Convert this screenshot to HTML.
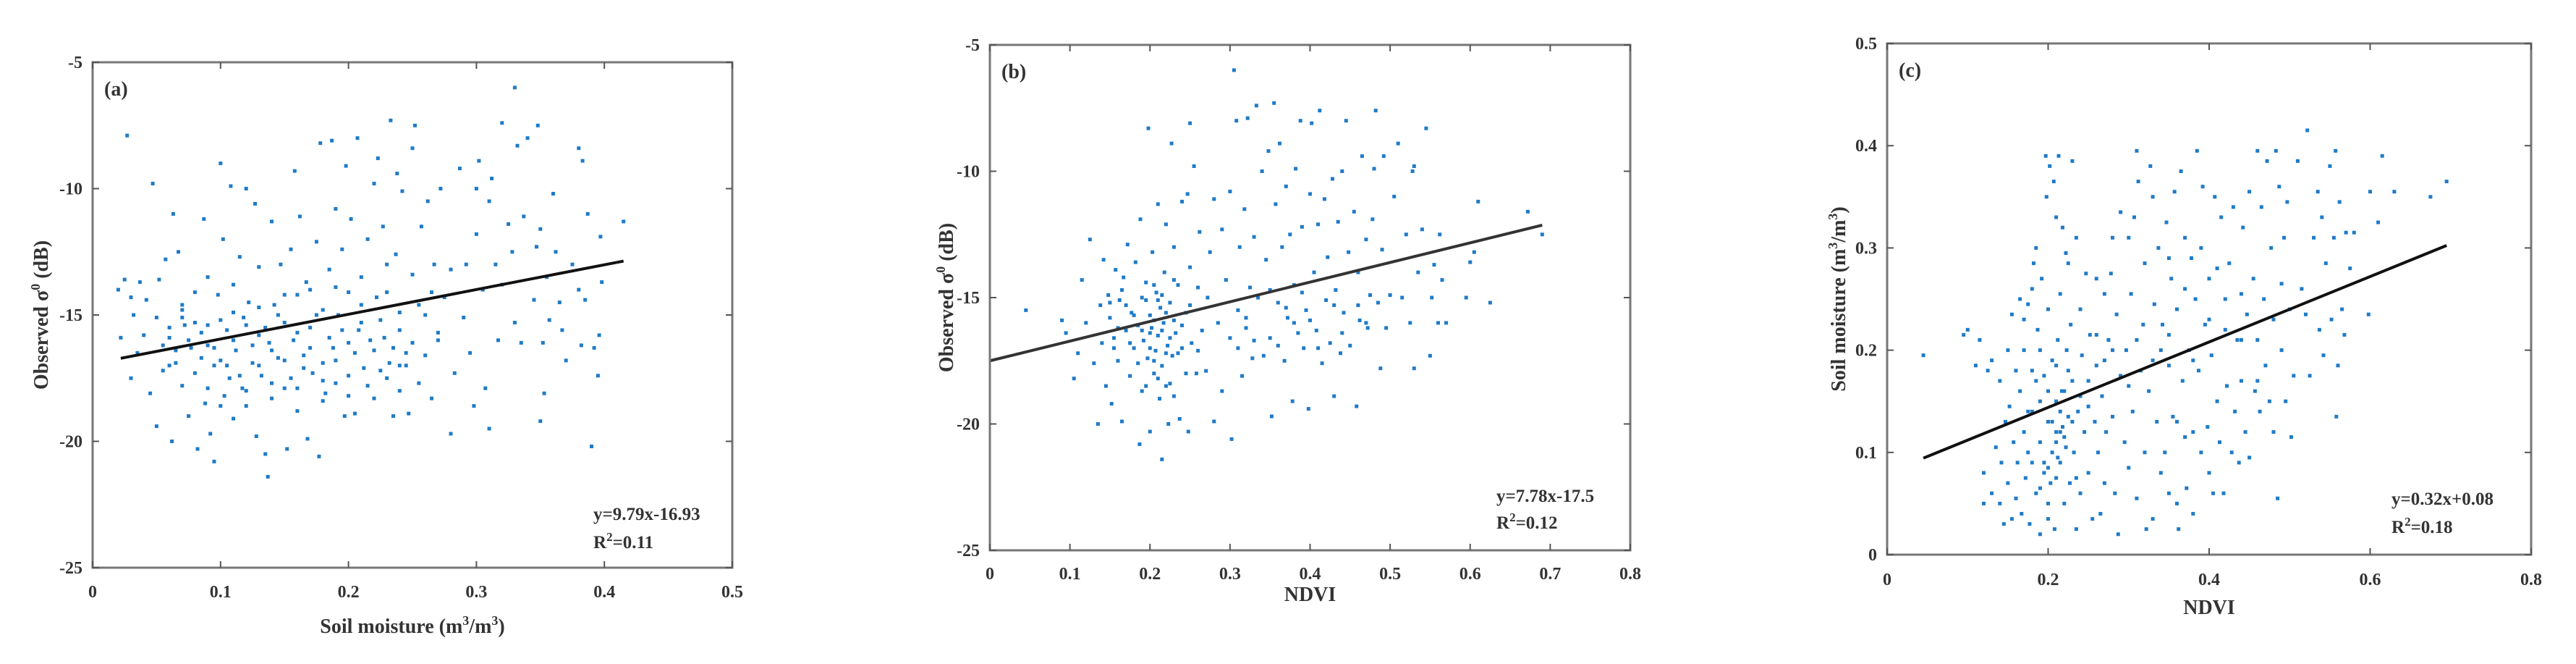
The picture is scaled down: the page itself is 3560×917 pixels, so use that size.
<!DOCTYPE html>
<html><head><meta charset="utf-8"><style>
html,body{margin:0;padding:0;background:#fff;width:3560px;height:917px;overflow:hidden}
svg{display:block}
text{font-family:"Liberation Serif",serif;font-weight:bold;fill:#333}
</style></head><body>
<svg id="fig" width="3560" height="917" viewBox="0 0 3560 917" xmlns="http://www.w3.org/2000/svg"></svg>
<script>
// ---------- data ----------
const ptsA=[[0.02,-14.0],[0.022,-15.9],[0.025,-13.6],[0.027,-7.9],[0.03,-14.3],[0.03,-17.5],[0.032,-15.0],[0.035,-16.5],[0.037,-13.7],[0.04,-15.8],[0.042,-14.4],[0.045,-18.1],[0.047,-9.8],[0.05,-15.1],[0.05,-19.4],[0.052,-13.6],[0.055,-16.2],[0.055,-17.2],[0.057,-12.8],[0.06,-15.5],[0.062,-20.0],[0.063,-11.0],[0.065,-16.9],[0.067,-12.5],[0.07,-14.8],[0.07,-17.8],[0.072,-15.4],[0.075,-19.0],[0.077,-16.3],[0.08,-14.1],[0.08,-17.3],[0.082,-20.3],[0.085,-15.7],[0.087,-11.2],[0.088,-18.5],[0.09,-16.2],[0.09,-13.5],[0.092,-19.7],[0.095,-17.0],[0.095,-20.8],[0.098,-14.2],[0.1,-9.0],[0.1,-16.8],[0.102,-12.0],[0.103,-18.2],[0.105,-15.6],[0.107,-17.5],[0.108,-9.9],[0.11,-13.8],[0.11,-19.1],[0.112,-16.4],[0.115,-12.7],[0.117,-17.9],[0.118,-15.1],[0.12,-10.0],[0.12,-18.6],[0.122,-14.5],[0.125,-16.9],[0.127,-10.6],[0.128,-19.8],[0.13,-15.8],[0.13,-13.1],[0.132,-17.4],[0.135,-20.5],[0.137,-21.4],[0.138,-16.1],[0.14,-11.3],[0.14,-18.3],[0.142,-14.6],[0.145,-16.7],[0.147,-13.0],[0.15,-17.9],[0.15,-15.3],[0.152,-20.3],[0.155,-12.4],[0.157,-16.0],[0.158,-9.3],[0.16,-18.8],[0.16,-14.2],[0.162,-11.1],[0.165,-16.6],[0.167,-13.7],[0.168,-19.9],[0.17,-15.5],[0.172,-17.3],[0.175,-12.1],[0.177,-20.6],[0.178,-8.2],[0.18,-16.9],[0.18,-14.8],[0.182,-18.1],[0.185,-13.2],[0.187,-8.1],[0.188,-16.3],[0.19,-10.8],[0.19,-17.7],[0.192,-15.0],[0.195,-12.4],[0.197,-19.0],[0.198,-9.1],[0.2,-16.1],[0.2,-14.1],[0.202,-11.2],[0.205,-18.9],[0.207,-8.0],[0.208,-15.6],[0.21,-13.5],[0.212,-17.1],[0.215,-12.0],[0.217,-16.0],[0.22,-9.8],[0.22,-18.3],[0.222,-14.3],[0.223,-8.8],[0.225,-17.2],[0.227,-11.5],[0.228,-15.9],[0.23,-13.0],[0.232,-16.9],[0.233,-7.3],[0.235,-19.0],[0.237,-12.6],[0.238,-9.4],[0.24,-17.0],[0.24,-14.9],[0.242,-10.1],[0.245,-16.5],[0.247,-18.9],[0.25,-8.4],[0.25,-13.4],[0.252,-7.5],[0.255,-17.7],[0.257,-11.5],[0.26,-15.0],[0.262,-10.5],[0.265,-18.3],[0.267,-13.0],[0.27,-16.0],[0.272,-10.0],[0.275,-14.3],[0.28,-19.7],[0.28,-13.2],[0.283,-17.3],[0.287,-9.2],[0.29,-15.1],[0.292,-13.0],[0.295,-16.5],[0.298,-18.6],[0.3,-10.0],[0.3,-11.8],[0.302,-8.9],[0.305,-14.0],[0.307,-17.9],[0.31,-19.5],[0.31,-10.5],[0.312,-9.6],[0.315,-13.0],[0.317,-16.0],[0.32,-7.4],[0.32,-13.8],[0.325,-11.4],[0.328,-12.5],[0.33,-6.0],[0.33,-15.3],[0.332,-8.3],[0.335,-16.1],[0.337,-11.1],[0.34,-8.0],[0.345,-14.4],[0.347,-12.3],[0.348,-7.5],[0.35,-19.2],[0.35,-11.6],[0.352,-16.1],[0.353,-18.1],[0.355,-13.5],[0.357,-15.2],[0.36,-10.2],[0.362,-12.5],[0.365,-14.5],[0.367,-15.6],[0.37,-16.8],[0.375,-13.0],[0.38,-14.0],[0.38,-8.4],[0.382,-16.2],[0.383,-8.9],[0.385,-14.4],[0.387,-11.0],[0.39,-20.2],[0.392,-16.3],[0.395,-17.4],[0.396,-15.8],[0.397,-11.9],[0.398,-13.7],[0.415,-11.3],
[0.06,-15.9],[0.065,-16.4],[0.07,-15.1],[0.075,-16.0],[0.08,-15.3],[0.085,-16.7],[0.09,-15.4],[0.095,-16.3],[0.1,-15.2],[0.105,-17.0],[0.11,-16.0],[0.115,-17.4],[0.12,-15.4],[0.125,-16.2],[0.13,-17.0],[0.135,-15.5],[0.14,-16.4],[0.145,-15.0],[0.15,-16.8],[0.155,-17.5],[0.16,-15.7],[0.165,-17.1],[0.17,-16.3],[0.175,-15.0],[0.18,-17.6],[0.185,-15.9],[0.19,-16.8],[0.195,-15.6],[0.2,-17.4],[0.205,-16.5],[0.21,-15.3],[0.215,-17.8],[0.22,-16.4],[0.225,-15.2],[0.23,-17.5],[0.235,-16.3],[0.24,-15.6],[0.245,-17.0],[0.25,-16.1],[0.255,-14.6],[0.26,-16.6],[0.265,-14.1],[0.27,-15.7],[0.11,-14.9],[0.13,-14.7],[0.15,-14.2],[0.17,-14.0],[0.19,-13.9],[0.21,-14.6],[0.23,-14.1],[0.09,-17.9],[0.12,-18.0],[0.14,-17.7],[0.16,-17.9],[0.18,-18.4],[0.2,-18.2],[0.24,-18.0],[0.06,-17.0],[0.1,-18.6],[0.07,-14.6]];
const ptsB=[[0.045,-15.5],[0.09,-15.9],[0.095,-16.4],[0.105,-18.2],[0.11,-17.2],[0.115,-14.3],[0.12,-16.0],[0.125,-12.7],[0.13,-17.6],[0.135,-20.0],[0.138,-15.3],[0.14,-16.8],[0.142,-13.5],[0.145,-18.5],[0.148,-14.9],[0.15,-15.8],[0.152,-19.2],[0.155,-16.6],[0.157,-13.9],[0.16,-17.5],[0.162,-15.1],[0.165,-19.9],[0.167,-14.2],[0.17,-16.3],[0.172,-12.9],[0.175,-18.1],[0.177,-15.6],[0.18,-17.0],[0.182,-13.6],[0.185,-16.1],[0.187,-20.8],[0.188,-11.9],[0.19,-15.0],[0.19,-18.7],[0.192,-16.7],[0.195,-14.4],[0.197,-17.4],[0.198,-8.3],[0.2,-15.7],[0.2,-20.3],[0.202,-16.2],[0.203,-13.2],[0.205,-18.0],[0.205,-15.9],[0.207,-17.1],[0.208,-14.8],[0.21,-16.5],[0.21,-11.3],[0.212,-19.0],[0.213,-15.4],[0.215,-17.7],[0.215,-21.4],[0.217,-16.0],[0.218,-14.0],[0.22,-18.5],[0.22,-12.1],[0.222,-16.9],[0.223,-20.0],[0.225,-15.2],[0.227,-8.9],[0.228,-17.3],[0.23,-13.0],[0.23,-18.9],[0.232,-16.4],[0.235,-14.5],[0.237,-19.8],[0.24,-11.2],[0.24,-17.0],[0.245,-15.6],[0.247,-10.9],[0.248,-20.3],[0.25,-13.8],[0.25,-8.1],[0.252,-16.8],[0.255,-9.8],[0.258,-18.0],[0.26,-14.6],[0.262,-12.4],[0.265,-16.3],[0.27,-17.9],[0.272,-15.0],[0.275,-13.2],[0.28,-19.9],[0.28,-11.1],[0.285,-16.0],[0.29,-18.7],[0.29,-12.3],[0.295,-14.3],[0.3,-10.8],[0.3,-16.6],[0.302,-20.6],[0.305,-6.0],[0.308,-8.0],[0.31,-15.5],[0.312,-13.0],[0.315,-18.1],[0.318,-11.5],[0.32,-16.2],[0.322,-7.9],[0.325,-14.6],[0.328,-17.4],[0.33,-12.6],[0.333,-7.4],[0.335,-15.0],[0.34,-10.0],[0.342,-17.3],[0.345,-13.5],[0.348,-9.2],[0.35,-16.6],[0.352,-19.7],[0.355,-7.3],[0.357,-11.3],[0.36,-15.2],[0.362,-8.9],[0.365,-13.0],[0.368,-17.5],[0.37,-10.6],[0.372,-15.8],[0.375,-12.5],[0.378,-19.1],[0.38,-14.5],[0.382,-9.9],[0.385,-16.4],[0.388,-8.0],[0.39,-12.2],[0.392,-17.0],[0.395,-15.5],[0.398,-19.4],[0.4,-10.9],[0.402,-8.1],[0.405,-14.0],[0.408,-16.3],[0.41,-12.1],[0.412,-7.6],[0.415,-17.6],[0.418,-11.1],[0.42,-15.1],[0.422,-13.4],[0.425,-16.8],[0.428,-10.3],[0.43,-18.9],[0.432,-14.7],[0.435,-12.0],[0.438,-17.2],[0.44,-10.0],[0.442,-15.6],[0.445,-8.0],[0.448,-13.2],[0.45,-16.9],[0.455,-11.6],[0.458,-19.3],[0.46,-14.0],[0.462,-15.9],[0.465,-9.4],[0.47,-12.7],[0.472,-16.2],[0.475,-14.9],[0.478,-11.9],[0.48,-9.9],[0.482,-7.6],[0.485,-15.2],[0.488,-17.8],[0.49,-13.1],[0.492,-9.4],[0.495,-16.2],[0.5,-14.9],[0.505,-11.0],[0.51,-8.9],[0.515,-15.0],[0.52,-12.5],[0.525,-16.0],[0.528,-10.0],[0.53,-9.8],[0.53,-17.8],[0.535,-14.0],[0.54,-12.3],[0.545,-8.3],[0.55,-17.3],[0.552,-15.0],[0.555,-13.7],[0.56,-16.0],[0.562,-12.5],[0.565,-14.3],[0.57,-16.0],[0.595,-15.0],[0.6,-13.6],[0.605,-13.2],[0.61,-11.2],[0.625,-15.2],[0.672,-11.6],[0.69,-12.5],
[0.16,-16.2],[0.17,-15.3],[0.18,-15.7],[0.185,-17.6],[0.19,-16.3],[0.195,-15.1],[0.2,-17.0],[0.2,-16.4],[0.205,-17.5],[0.21,-15.1],[0.21,-18.2],[0.215,-16.3],[0.22,-15.6],[0.22,-17.2],[0.225,-16.6],[0.225,-18.4],[0.23,-15.9],[0.235,-17.2],[0.24,-16.1],[0.245,-18.0],[0.15,-15.2],[0.155,-17.0],[0.165,-14.7],[0.175,-16.8],[0.195,-18.5],[0.205,-14.5],[0.215,-14.9],[0.23,-14.3],[0.25,-15.3],[0.26,-17.1],[0.32,-15.8],[0.33,-16.7],[0.37,-15.4],[0.38,-16.0],[0.39,-14.8],[0.4,-15.9],[0.41,-17.0],[0.43,-15.3],[0.44,-16.4],[0.46,-15.3],[0.47,-16.0],[0.35,-14.7],[0.36,-16.9],[0.31,-17.0]];
const ptsC=[[0.045,0.195],[0.095,0.215],[0.1,0.22],[0.11,0.185],[0.115,0.21],[0.12,0.08],[0.12,0.05],[0.125,0.18],[0.13,0.19],[0.13,0.06],[0.135,0.105],[0.14,0.05],[0.14,0.17],[0.142,0.09],[0.145,0.03],[0.147,0.13],[0.15,0.2],[0.15,0.07],[0.152,0.145],[0.155,0.035],[0.155,0.235],[0.157,0.11],[0.16,0.18],[0.16,0.055],[0.162,0.09],[0.165,0.25],[0.165,0.16],[0.167,0.04],[0.17,0.12],[0.17,0.2],[0.172,0.075],[0.175,0.245],[0.175,0.14],[0.177,0.03],[0.18,0.26],[0.18,0.18],[0.18,0.09],[0.182,0.285],[0.185,0.3],[0.185,0.06],[0.187,0.22],[0.19,0.15],[0.19,0.02],[0.19,0.11],[0.192,0.27],[0.195,0.08],[0.195,0.175],[0.197,0.39],[0.198,0.35],[0.2,0.13],[0.2,0.24],[0.2,0.035],[0.202,0.38],[0.203,0.07],[0.205,0.19],[0.205,0.1],[0.207,0.365],[0.208,0.025],[0.21,0.33],[0.21,0.15],[0.21,0.12],[0.212,0.21],[0.213,0.39],[0.215,0.09],[0.215,0.255],[0.217,0.16],[0.218,0.32],[0.22,0.115],[0.22,0.05],[0.222,0.295],[0.223,0.2],[0.225,0.135],[0.225,0.285],[0.227,0.07],[0.228,0.225],[0.23,0.385],[0.23,0.17],[0.232,0.1],[0.235,0.31],[0.235,0.025],[0.237,0.14],[0.24,0.24],[0.24,0.06],[0.242,0.195],[0.245,0.12],[0.247,0.275],[0.25,0.17],[0.25,0.08],[0.252,0.215],[0.255,0.035],[0.258,0.13],[0.26,0.27],[0.26,0.185],[0.262,0.1],[0.265,0.04],[0.267,0.155],[0.27,0.07],[0.27,0.255],[0.272,0.12],[0.275,0.21],[0.278,0.275],[0.28,0.135],[0.28,0.31],[0.283,0.06],[0.285,0.235],[0.287,0.02],[0.29,0.175],[0.29,0.335],[0.295,0.11],[0.297,0.2],[0.3,0.31],[0.3,0.085],[0.303,0.255],[0.305,0.14],[0.307,0.33],[0.31,0.055],[0.31,0.395],[0.312,0.365],[0.315,0.18],[0.318,0.225],[0.32,0.1],[0.32,0.285],[0.322,0.025],[0.325,0.16],[0.327,0.38],[0.33,0.35],[0.33,0.035],[0.332,0.245],[0.335,0.13],[0.337,0.3],[0.34,0.08],[0.34,0.2],[0.342,0.225],[0.345,0.1],[0.347,0.325],[0.35,0.185],[0.35,0.06],[0.353,0.27],[0.355,0.135],[0.357,0.355],[0.36,0.05],[0.36,0.24],[0.362,0.025],[0.365,0.375],[0.367,0.17],[0.37,0.115],[0.37,0.31],[0.372,0.065],[0.375,0.2],[0.378,0.29],[0.38,0.12],[0.38,0.04],[0.383,0.25],[0.385,0.395],[0.387,0.18],[0.39,0.3],[0.39,0.1],[0.392,0.36],[0.395,0.225],[0.398,0.125],[0.4,0.27],[0.4,0.08],[0.403,0.195],[0.405,0.06],[0.407,0.35],[0.41,0.15],[0.41,0.28],[0.413,0.11],[0.415,0.33],[0.418,0.06],[0.42,0.22],[0.422,0.165],[0.425,0.285],[0.428,0.1],[0.43,0.34],[0.432,0.14],[0.435,0.21],[0.437,0.09],[0.44,0.255],[0.44,0.17],[0.442,0.32],[0.445,0.12],[0.447,0.235],[0.45,0.095],[0.45,0.355],[0.455,0.27],[0.457,0.16],[0.46,0.395],[0.46,0.21],[0.463,0.14],[0.465,0.34],[0.468,0.25],[0.47,0.185],[0.472,0.385],[0.475,0.15],[0.477,0.3],[0.48,0.12],[0.48,0.23],[0.483,0.395],[0.485,0.055],[0.487,0.36],[0.49,0.2],[0.49,0.265],[0.493,0.31],[0.495,0.15],[0.497,0.345],[0.5,0.24],[0.502,0.115],[0.505,0.175],[0.51,0.385],[0.515,0.26],[0.52,0.235],[0.522,0.415],[0.525,0.175],[0.53,0.31],[0.535,0.355],[0.537,0.22],[0.54,0.33],[0.542,0.195],[0.545,0.285],[0.55,0.38],[0.552,0.23],[0.555,0.31],[0.557,0.395],[0.558,0.135],[0.56,0.185],[0.562,0.345],[0.565,0.24],[0.568,0.215],[0.57,0.315],[0.575,0.28],[0.58,0.315],[0.598,0.235],[0.6,0.355],[0.61,0.325],[0.615,0.39],[0.63,0.355],[0.675,0.35],[0.695,0.365],
[0.195,0.09],[0.2,0.085],[0.205,0.13],[0.21,0.11],[0.212,0.095],[0.215,0.14],[0.218,0.125],[0.22,0.16],[0.222,0.105],[0.225,0.18],[0.23,0.13],[0.215,0.12],[0.21,0.185],[0.2,0.16],[0.19,0.2],[0.185,0.17],[0.18,0.14],[0.17,0.23],[0.175,0.1],[0.19,0.065],[0.2,0.05],[0.21,0.075],[0.235,0.075],[0.24,0.155],[0.25,0.145],[0.26,0.215],[0.27,0.19],[0.28,0.2],[0.3,0.165],[0.31,0.21],[0.33,0.19],[0.35,0.215],[0.36,0.13],[0.38,0.19],[0.4,0.23],[0.42,0.25],[0.44,0.21],[0.46,0.17],[0.35,0.29],[0.37,0.26]];
const xTicksA=[0,0.1,0.2,0.3,0.4,0.5];
const yTicksA=[-25,-20,-15,-10,-5];
const xTicksB=[0,0.1,0.2,0.3,0.4,0.5,0.6,0.7,0.8];
const yTicksB=[-25,-20,-15,-10,-5];
const xTicksC=[0,0.2,0.4,0.6,0.8];
const yTicksC=[0,0.1,0.2,0.3,0.4,0.5];
const fitA=[9.79,-16.93,0.022,0.415];
const fitB=[7.78,-17.5,0,0.69];
const fitC=[0.32,0.08,0.045,0.695];

const NS='http://www.w3.org/2000/svg';
const svg=document.getElementById('fig');
function mk(tag,attrs,parent){const e=document.createElementNS(NS,tag);for(const k in attrs)e.setAttribute(k,attrs[k]);(parent||svg).appendChild(e);return e;}

function chart(cfg){
  const g=mk('g',{});
  
  
  const {L,R,T,B}=cfg;
  const sx=v=>L+(v-cfg.xMin)/(cfg.xMax-cfg.xMin)*(R-L);
  const sy=v=>B-(v-cfg.yMin)/(cfg.yMax-cfg.yMin)*(B-T);
  const pg=mk('g',{fill:'#1f7bc8'},g);
  
  
  cfg.pts.forEach(p=>{
    const r=mk('rect',{x:(sx(p[0])-2.5).toFixed(1),y:(sy(p[1])-2.5).toFixed(1),width:5,height:5},pg);
    
    
  });
  const f=cfg.fit;
  const ln=mk('line',{x1:sx(f[2]),y1:sy(f[0]*f[2]+f[1]),x2:sx(f[3]),y2:sy(f[0]*f[3]+f[1]),stroke:cfg.lineColor,'stroke-width':4},g);
  
  
  const box=mk('rect',{x:L,y:T,width:R-L,height:B-T,fill:'none',stroke:'#777','stroke-width':3},g);
  
  
  cfg.xTicks.forEach(v=>{
    const x=sx(v);
    mk('line',{x1:x,y1:B,x2:x,y2:B-9,stroke:'#555','stroke-width':2},g);
    mk('line',{x1:x,y1:T,x2:x,y2:T+9,stroke:'#555','stroke-width':2},g);
    const t=mk('text',{x:x,y:cfg.xTickY,'text-anchor':'middle','font-size':24},g);
    t.textContent=String(v);
    
    
  });
  cfg.yTicks.forEach(v=>{
    const y=sy(v);
    mk('line',{x1:L,y1:y,x2:L+9,y2:y,stroke:'#555','stroke-width':2},g);
    mk('line',{x1:R,y1:y,x2:R-9,y2:y,stroke:'#555','stroke-width':2},g);
    const t=mk('text',{x:L-14,y:y+8,'text-anchor':'end','font-size':24},g);
    t.textContent=String(v);
    
    
  });
  const pl=mk('text',{x:L+16,y:T+46,'font-size':28,fill:'#222'},g);
  pl.textContent=cfg.panel;
  
  
  const e1=mk('text',{x:cfg.eqX,y:cfg.eqY1,'font-size':25,fill:'#222'},g);
  e1.textContent=cfg.eq;
  
  
  const e2=mk('text',{x:cfg.eqX,y:cfg.eqY2,'font-size':25,fill:'#222'},g);
  e2.innerHTML='R<tspan dy="-10" font-size="17">2</tspan><tspan dy="10">'+cfg.r2+'</tspan>';
  
  
  const xt=mk('text',{x:(L+R)/2,y:cfg.xTitleY,'text-anchor':'middle','font-size':28},g);
  xt.innerHTML=cfg.xTitle;
  
  
  const cy=(T+B)/2;
  const yt=mk('text',{x:cfg.yTitleX,y:cy,'text-anchor':'middle','font-size':28,transform:'rotate(-90 '+cfg.yTitleX+' '+cy+')'},g);
  yt.innerHTML=cfg.yTitle;
  
  
}
const sup=s=>'<tspan dy="-11" font-size="18">'+s+'</tspan><tspan dy="11">';
chart({name:'chart-a',L:128,R:1012,T:86,B:784,xMin:0,xMax:0.5,yMin:-25,yMax:-5,pts:ptsA,fit:fitA,lineColor:'#111',
  xTicks:xTicksA,yTicks:yTicksA,xTickY:825,panel:'(a)',eq:'y=9.79x-16.93',r2:'=0.11',eqX:820,eqY1:718,eqY2:757,
  xTitle:'Soil moisture (m'+sup('3')+'/m</tspan>'+sup('3')+')</tspan>',xTitleY:874,
  yTitle:'Observed σ'+sup('0')+' (dB)</tspan>',yTitleX:66});
chart({name:'chart-b',L:1368,R:2253,T:62,B:760,xMin:0,xMax:0.8,yMin:-25,yMax:-5,pts:ptsB,fit:fitB,lineColor:'#333',
  xTicks:xTicksB,yTicks:yTicksB,xTickY:800,panel:'(b)',eq:'y=7.78x-17.5',r2:'=0.12',eqX:2068,eqY1:693,eqY2:730,
  xTitle:'NDVI',xTitleY:830,
  yTitle:'Observed σ'+sup('0')+' (dB)</tspan>',yTitleX:1317});
chart({name:'chart-c',L:2608,R:3498,T:60,B:766,xMin:0,xMax:0.8,yMin:0,yMax:0.5,pts:ptsC,fit:fitC,lineColor:'#111',
  xTicks:xTicksC,yTicks:yTicksC,xTickY:808,panel:'(c)',eq:'y=0.32x+0.08',r2:'=0.18',eqX:3305,eqY1:697,eqY2:736,
  xTitle:'NDVI',xTitleY:848,
  yTitle:'Soil moisture (m'+sup('3')+'/m</tspan>'+sup('3')+')</tspan>',yTitleX:2550});
</script>
</body></html>
